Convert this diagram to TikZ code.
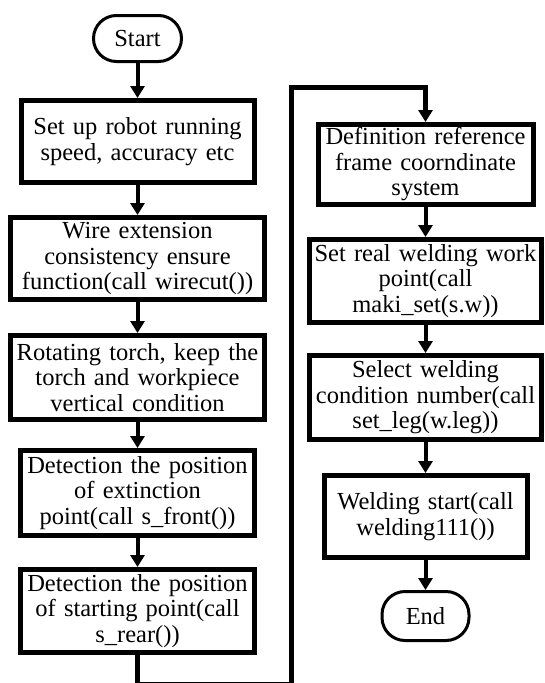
\documentclass[tikz,border=0pt]{standalone}
\usepackage{fontspec}
\setmainfont{Liberation Serif}
\usetikzlibrary{arrows.meta}
\begin{document}
\begin{tikzpicture}[x=1pt,y=-1pt,
  txt/.style={font=\fontsize{24.5}{25.5}\selectfont, align=center, inner sep=0pt},
  procbox/.style={txt, draw, line width=5pt, rectangle},
  term/.style={txt, draw, line width=3pt, rectangle, rounded corners=23pt},
  arr/.style={line width=4pt, -{Triangle[width=14pt,length=12pt]}},
  link/.style={line width=5pt, -{Triangle[width=14pt,length=12pt]}}
]
\useasboundingbox (0,0) rectangle (544,683);
\fill[white] (0,0) rectangle (544,683);

\node[term, minimum width=88pt, minimum height=46pt] (st) at (137.5,38.5) {Start};
\node[procbox, minimum width=233pt, minimum height=82pt, text width=233pt] (b1) at (137.5,141.5) {Set up robot running\\speed, accuracy etc};
\node[procbox, minimum width=254pt, minimum height=82pt, text width=254pt] (b2) at (137.5,258.5) {Wire extension\\consistency ensure\\function(call wirecut())};
\node[procbox, minimum width=254pt, minimum height=84pt, text width=254pt] (b3) at (137.5,377.5) {Rotating torch, keep the\\torch and workpiece\\vertical condition};
\node[procbox, minimum width=234pt, minimum height=85pt, text width=234pt] (b4) at (137.5,493) {Detection the position\\of extinction\\point(call s\_front())};
\node[procbox, minimum width=234pt, minimum height=83pt, text width=234pt] (b5) at (137.5,611) {Detection the position\\of starting point(call\\s\_rear())};

\node[procbox, minimum width=215pt, minimum height=80pt, text width=215pt] (b6) at (425.5,164.5) {Definition reference\\frame coorndinate\\system};
\node[procbox, minimum width=232pt, minimum height=83pt, text width=232pt] (b7) at (425.5,281) {Set real welding work\\point(call\\maki\_set(s.w))};
\node[procbox, minimum width=232pt, minimum height=84pt, text width=232pt] (b8) at (425.5,397.5) {Select welding\\condition number(call\\set\_leg(w.leg))};
\node[procbox, minimum width=203pt, minimum height=82pt, text width=203pt] (b9) at (425.5,516.5) {Welding start(call\\welding111())};
\node[term, minimum width=87pt, minimum height=49pt] (en) at (425.5,616) {End};

\draw[arr] (st) -- (b1);
\draw[arr] (b1) -- (b2);
\draw[arr] (b2) -- (b3);
\draw[arr] (b3) -- (b4);
\draw[arr] (b4) -- (b5);

\coordinate (cb) at (291,684.5);
\coordinate (ct) at (291,87);
\draw[link] (b5.south) |- (cb) -- (ct) -| (b6.north);

\draw[arr] (b6) -- (b7);
\draw[arr] (b7) -- (b8);
\draw[arr] (b8) -- (b9);
\draw[arr] (b9) -- (en);
\end{tikzpicture}
\end{document}
